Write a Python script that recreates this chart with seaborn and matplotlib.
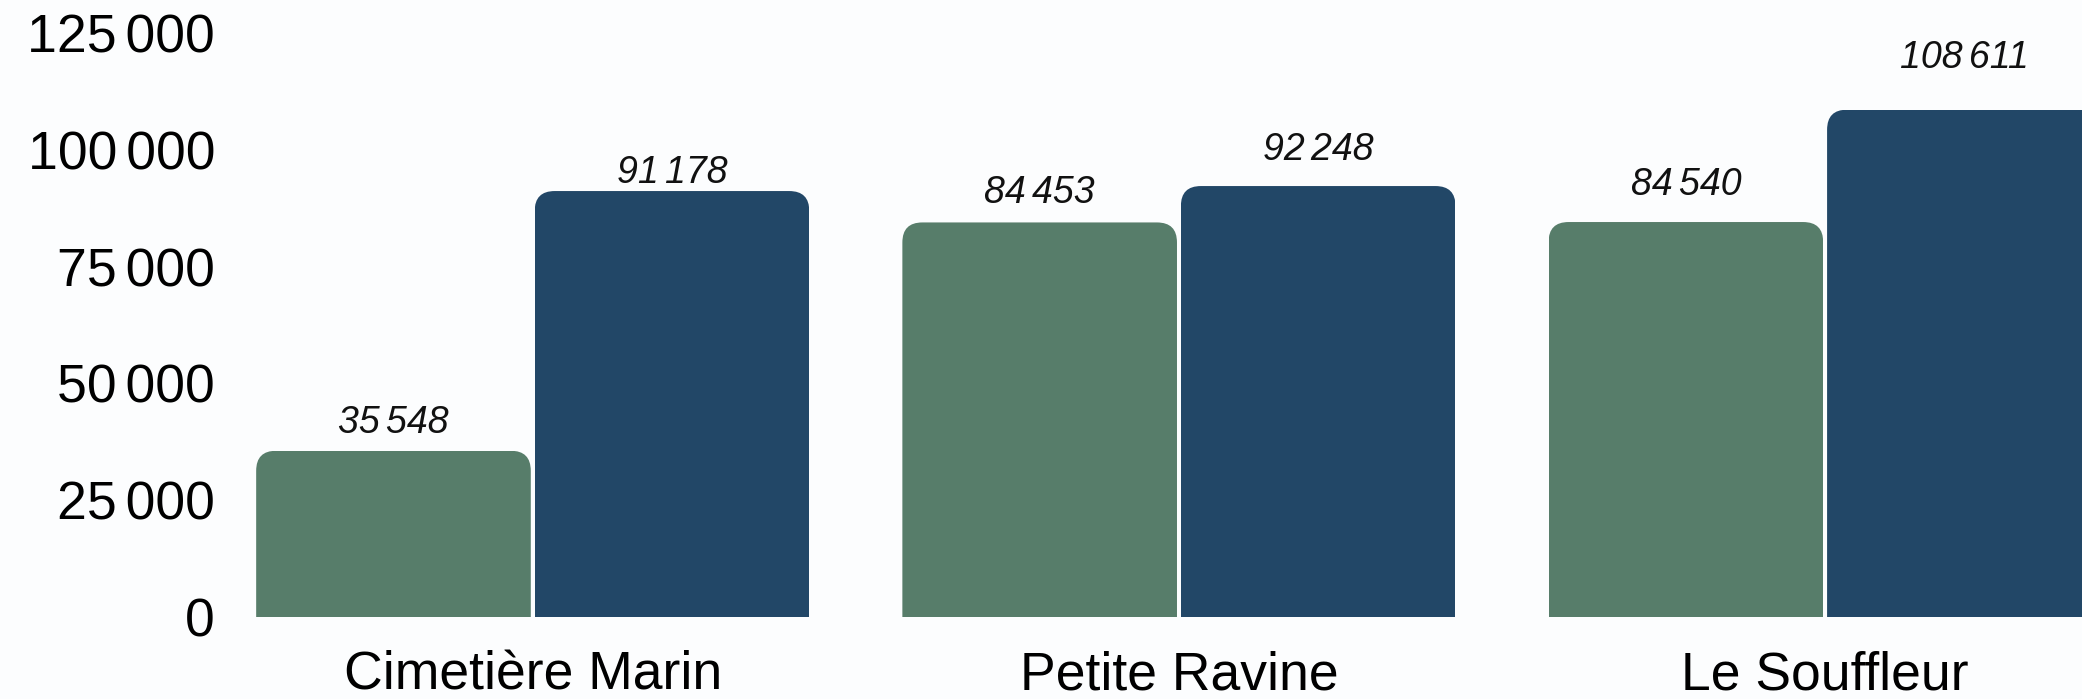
"""
plot.py — Site comparison bar chart (two series per site), rounded bar tops.

Usage:
    python plot.py
Outputs:
    out.png
"""

import matplotlib
matplotlib.use("Agg")  # no display
import matplotlib.pyplot as plt
import matplotlib.ticker as ticker
from matplotlib.patches import FancyBboxPatch
import pandas as pd
import seaborn as sns

# ── Data ──────────────────────────────────────────────────────────────────────

SITES    = ["Cimetière Marin", "Petite Ravine", "Le Souffleur"]
SERIES   = ["serie_1", "serie_2"]
VALUES_1 = [35548, 84453, 84540]
VALUES_2 = [91178, 92248, 108611]
Y_TICKS  = [0, 25000, 50000, 75000, 100000, 125000]

# ── Style ─────────────────────────────────────────────────────────────────────

COLORS     = {"serie_1": "#577D6A", "serie_2": "#224767"}
BACKGROUND = "#FCFDFE"
# label lift above each bar top (points), same order as the bars are drawn
LABEL_LIFT = {"serie_1": [20, 21, 27], "serie_2": [13, 26, 37]}

W, H, DPI = 2082, 699, 100
AX_LEFT, AX_BOTTOM = 240, 616.7          # pixels
Y_TOP = 132100
X_LIM = (-0.453, 2.3975)

sns.set_theme(style="white")
plt.rcParams["font.family"] = ["Liberation Sans", "DejaVu Sans"]


def fmt(v, _=None):
    return f"{int(v):,}".replace(",", "\u2006")


def round_tops(ax, fig, radius_px=20):
    """Clip every bar with a rounded box so only the top corners are rounded."""
    ax_w = fig.get_figwidth() * DPI * ax.get_position().width
    ax_h = fig.get_figheight() * DPI * ax.get_position().height
    x_per_px = (X_LIM[1] - X_LIM[0]) / ax_w
    y_per_px = Y_TOP / ax_h
    rx = radius_px * x_per_px
    aspect = (radius_px * y_per_px) / rx
    for bar in ax.patches:
        x, y, w, h = bar.get_x(), bar.get_y(), bar.get_width(), bar.get_height()
        clip = FancyBboxPatch((x, y - h), w, 2 * h,
                              boxstyle=f"round,pad=0,rounding_size={rx}",
                              mutation_aspect=aspect, transform=ax.transData)
        bar.set_clip_path(clip)


def main():
    df = pd.DataFrame({
        "site":  SITES * 2,
        "serie": [SERIES[0]] * len(SITES) + [SERIES[1]] * len(SITES),
        "value": VALUES_1 + VALUES_2,
    })

    fig = plt.figure(figsize=(W / DPI, H / DPI), dpi=DPI, facecolor=BACKGROUND)
    ax = fig.add_axes([AX_LEFT / W, (H - AX_BOTTOM) / H, 1 - AX_LEFT / W, AX_BOTTOM / H])
    ax.set_facecolor(BACKGROUND)

    sns.barplot(data=df, x="site", y="value", hue="serie", order=SITES,
                hue_order=SERIES, palette=COLORS, saturation=1,
                width=0.862, gap=0.014, linewidth=0, legend=False, ax=ax)

    ax.set_xlim(*X_LIM)
    ax.set_ylim(0, Y_TOP)
    ax.set_yticks(Y_TICKS)
    ax.yaxis.set_major_formatter(ticker.FuncFormatter(fmt))
    ax.tick_params(axis="y", length=0, pad=18, labelsize=38.5, labelcolor="black")
    ax.tick_params(axis="x", length=0, pad=24, labelsize=38.5, labelcolor="black")
    ax.set_xlabel("")
    ax.set_ylabel("")
    sns.despine(ax=ax, left=True, bottom=True)
    ax.grid(False)

    round_tops(ax, fig)

    # value labels, italic
    for container, serie in zip(ax.containers, SERIES):
        for bar, lift in zip(container, LABEL_LIFT[serie]):
            ax.annotate(fmt(bar.get_height()),
                        (bar.get_x() + bar.get_width() / 2, bar.get_height()),
                        xytext=(0, lift), textcoords="offset points",
                        ha="center", va="center", fontsize=27, style="italic",
                        color="#111111", annotation_clip=False)

    fig.savefig("out.png", dpi=DPI, facecolor=BACKGROUND)
    plt.close(fig)


if __name__ == "__main__":
    main()
